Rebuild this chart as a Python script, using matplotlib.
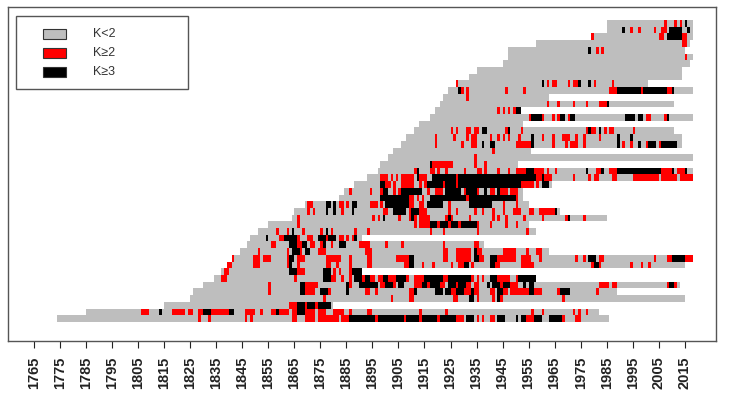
import matplotlib
matplotlib.use('Agg')
import matplotlib.pyplot as plt
from matplotlib.patches import Rectangle

plt.rcParams['font.family'] = ['Liberation Sans', 'DejaVu Sans']

# rows listed from top (k=0) to bottom (k=44)
row_start = [1985, 1985, 1979, 1958, 1947, 1947, 1945, 1935, 1932, 1927,
             1924, 1922, 1921, 1919, 1917, 1913, 1911, 1908, 1906, 1903,
             1901, 1898, 1897, 1893, 1888, 1884, 1882, 1869, 1865, 1864,
             1855, 1851, 1848, 1847, 1844, 1841, 1839, 1837, 1834, 1830,
             1826, 1825, 1815, 1785, 1774]

row_end = [2017, 2017, 2017, 2016, 2014, 2017, 2016, 2013, 2013, 2000,
           2017, 1962, 2010, 1951, 2017, 1952, 2010, 2013, 2013, 1955,
           2017, 1950, 2017, 2017, 1963, 1952, 1952, 1954, 1966, 1984,
           1954, 1957, 1890, 1937, 1962, 2017, 2014, 1890, 1957, 2012,
           1988, 2014, 1879, 1981, 1985]

# years with K>=2 (single year or (first, last) run)
red_years = [
    [2007, 2011, 2013],
    [1994, 1997, 2003, (2006, 2007)],
    [1979, (2005, 2006), (2014, 2015)],
    [2014, 2015],
    [1981, 1983],
    [2015],
    [],
    [],
    [],
    [1927, 1962, (1964, 1965), 1970, (1972, 1973), 1980, 1987],
    [1929, 1931, 1946, 1953, (1986, 1988), 1998, (2008, 2009)],
    [1931],
    [1962, 1966, 1972, 1977, (1982, 1984)],
    [1943, 1945, 1947, 1949],
    [1955, 1960, 1964, 1966, 1970, 2000, 2001, 2007],
    [],
    [1925, 1927, 1931, 1932, 1934, 1935, 1946, 1952, 1977, 1979, 1980, 1984,
     1986, 1987, 1995],
    [1919, 1926, 1931, 1933, 1934, 1940, 1943, 1945, 1947, 1951, 1960, 1964,
     (1968, 1970), 1973, 1976, 1982],
    [1919, 1929, 1933, 1934, (1950, 1955), 1964, 1969, (1971, 1973), 1976,
     1991, 1994, 2000, 2005],
    [1941],
    [1934],
    [(1918, 1925), 1934, 1938],
    [1911, 1917, 1918, 1920, 1923, 1930, 1935, 1936, 1938, 1943, 1947,
     (1950, 1953), (1957, 1960), 1962, 1965, 1981, 1982, (1986, 1988),
     (2006, 2009), (2012, 2014)],
    [(1898, 1900), 1902, 1904, (1906, 1910), (1913, 1915), 1927, (1958, 1959),
     (1961, 1963), 1972, 1978, (1980, 1981), (1987, 1988), (1995, 2004),
     (2006, 2011), (2013, 2017)],
    [1900, 1901, 1903, (1906, 1910), 1913, 1915, 1922, 1927, (1952, 1956), 1958],
    [1886, 1894, 1898, 1903, 1905, 1916, (1919, 1921), 1930, 1935,
     (1940, 1941), (1944, 1946), (1948, 1950)],
    [1909, 1910, 1912, 1914, 1931, 1950],
    [1870, 1871, (1882, 1883), 1885, (1894, 1896), 1898, (1909, 1910),
     (1913, 1914), 1924, 1945, 1950],
    [1870, 1872, 1883, 1899, 1900, 1909, (1913, 1915), 1924, 1927, 1934, 1937,
     1941, 1945, (1949, 1951), 1955, 1956, (1959, 1964)],
    [1866, 1895, 1897, 1905, (1909, 1911), (1913, 1916), 1923, 1925, 1932,
     1941, 1943, 1946, 1953, 1960, 1969, 1976],
    [1866, 1911, (1913, 1916), 1920, 1924, 1928, 1935, 1940, 1946, 1950],
    [1858, 1862, 1868, 1875, 1879, 1888, 1893, 1917, 1922, 1935, 1954],
    [1859, 1860, 1866, 1870, 1871, 1877, 1882, 1883, 1885, 1887],
    [1856, 1857, 1866, 1867, 1871, 1872, 1875, 1879, (1890, 1893), 1900, 1906,
     1922, 1934, 1935],
    [1851, 1862, 1867, (1874, 1876), (1892, 1894), (1922, 1923), (1927, 1932),
     1935, 1936, (1945, 1949), 1954, 1958, 1959],
    [1841, (1849, 1851), (1853, 1855), 1862, (1866, 1868), (1877, 1882), 1886,
     (1893, 1894), (1904, 1908), (1922, 1923), (1927, 1932), (1936, 1937),
     (1943, 1949), (1952, 1955), 1959, 1973, 1976, (1982, 1983), 2003,
     (2008, 2009), (2015, 2017)],
    [1839, 1840, (1849, 1851), 1862, 1866, (1877, 1878), 1881, 1886,
     (1893, 1894), (1907, 1908), 1914, 1918, 1925, (1928, 1929), 1933,
     (1942, 1943), (1952, 1956), 1979, 1982, 1994, 1998, 2001],
    [1838, 1839, (1866, 1868), 1880, 1882, 1886],
    [1837, 1838, 1865, (1879, 1880), 1883, 1886, 1891, 1894, 1895,
     (1897, 1898), (1900, 1903), 1908, (1911, 1914), (1922, 1923), 1933, 1935,
     1937, (1943, 1947), 1950],
    [1855, (1869, 1873), 1886, (1898, 1899), 1903, (1911, 1913), 1916,
     (1921, 1922), 1927, (1931, 1932), (1934, 1935), 1944, (1948, 1950),
     (1982, 1985), (1987, 1988), 2008, 2011],
    [1855, (1869, 1872), 1878, (1892, 1893), 1896, (1909, 1910), 1925, 1926,
     (1930, 1932), (1934, 1935), (1940, 1941), (1945, 1946), (1948, 1954),
     (1957, 1959), 1966, 1981],
    [1876, 1902, (1909, 1910), (1926, 1927), 1935, 1941, 1944, 1968],
    [(1863, 1865), 1869, 1873],
    [(1806, 1808), (1818, 1822), (1824, 1825), (1828, 1829), (1833, 1839),
     (1846, 1849), 1852, (1856, 1857), (1859, 1862), (1864, 1865),
     (1869, 1872), (1874, 1876), (1880, 1883), 1886, 1893, 1894, 1913, 1923,
     1956, 1960, 1972, 1974, 1977],
    [1828, 1832, 1846, 1848, (1864, 1865), (1869, 1872), (1874, 1881),
     (1883, 1885), 1896, 1907, 1913, 1920, (1927, 1929), 1935, 1937,
     (1940, 1941), (1954, 1956), 1968, (1973, 1974)],
]

# years with K>=3
black_years = [
    [2015],
    [1991, (2009, 2013), 2016],
    [(2008, 2013)],
    [],
    [1978],
    [],
    [],
    [],
    [],
    [1960, 1974, 1978],
    [1928, (1989, 1997), (1999, 2007), 2010],
    [],
    [1985],
    [(1950, 1951)],
    [(1956, 1959), (1967, 1968), (1971, 1972), (1992, 1995), (1997, 1998), 2008],
    [],
    [1937, 1938, 1947, 1978, 1982],
    [1956, 1989, 1994],
    [1937, 1940, 1941, 1956, 1989, 1997, (2001, 2003), (2006, 2011)],
    [],
    [],
    [1917],
    [1912, (1954, 1956), 1977, 1983, (1989, 2005), 2010, 2015],
    [1912, (1918, 1926), (1928, 1957), 1960],
    [1898, 1899, (1916, 1921), (1923, 1926), (1928, 1951), (1960, 1962)],
    [1899, 1900, (1906, 1913), (1923, 1928), (1931, 1934), 1938, 1943],
    [(1898, 1908), (1917, 1930), (1932, 1949)],
    [1877, 1878, 1880, 1887, 1888, (1900, 1908), (1916, 1921), (1932, 1940)],
    [1877, 1880, 1887, (1903, 1907), (1910, 1912), 1965],
    [1899, 1910, 1924, 1970],
    [(1917, 1919), (1921, 1923), (1925, 1927), (1929, 1934)],
    [1864, 1877],
    [1854, (1861, 1865), (1874, 1876), (1878, 1880), 1888],
    [(1863, 1865), (1868, 1869), 1876, (1882, 1884)],
    [(1864, 1866), (1869, 1870), 1934],
    [(1863, 1864), (1909, 1910), (1934, 1935), (1940, 1942), (1978, 1980),
     (2010, 2014)],
    [1863, (1909, 1910), (1930, 1931), (1940, 1941), (1980, 1981)],
    [(1863, 1865), (1876, 1878), (1887, 1890)],
    [(1876, 1878), (1888, 1890), (1892, 1893), (1899, 1900), (1904, 1907),
     (1915, 1921), (1924, 1932), (1940, 1942), (1951, 1957)],
    [(1867, 1868), 1885, (1890, 1896), (1900, 1902), (1905, 1906), (1914, 1915),
     (1917, 1920), (1924, 1926), (1928, 1930), 1939, (1941, 1943),
     (1945, 1947), 1953, (1955, 1956), (2009, 2010)],
    [(1867, 1868), (1875, 1877), 1885, 1911, (1919, 1921), (1923, 1924),
     (1927, 1929), 1933, (1943, 1944), (1955, 1956), (1967, 1970)],
    [(1932, 1933), 1943],
    [(1866, 1868), (1870, 1872), (1874, 1878)],
    [1813, (1830, 1832), (1840, 1841), 1858, (1866, 1868)],
    [(1886, 1895), (1897, 1906), (1908, 1912), (1914, 1919), (1921, 1926),
     (1931, 1933), (1943, 1945), 1950, (1952, 1953), (1957, 1959),
     (1963, 1967)],
]

tick_years = list(range(1765, 2016, 10))
legend_labels = ['K<2', 'K\u22652', 'K\u22653']
colors = ['#BEBEBE', '#FF0000', '#000000']


def spans(items):
    out = []
    for it in items:
        a, b = (it, it) if isinstance(it, int) else it
        out.append((a, b - a + 1))
    return out


W, H = 730, 399
fig = plt.figure(figsize=(W / 100, H / 100), dpi=100)
ax = fig.add_axes([8 / W, 1 - 341 / H, 708 / W, 334 / H])

n = len(row_start)
for k in range(n):
    y = n - 1 - k
    ax.broken_barh([(row_start[k], row_end[k] - row_start[k] + 1)], (y, 1),
                   facecolor=colors[0], edgecolor='none', antialiased=False)
    ax.broken_barh(spans(red_years[k]), (y, 1), facecolor=colors[1],
                   edgecolor='none', antialiased=False)
    ax.broken_barh(spans(black_years[k]), (y, 1), facecolor=colors[2],
                   edgecolor='none', antialiased=False)

ax.set_xlim(1755, 2027)
ax.set_ylim(-2.83, n + 1.94)
ax.set_yticks([])
ax.set_xticks(tick_years)
ax.set_xticklabels([str(t) for t in tick_years], rotation=90,
                   fontweight='bold', fontsize=10.5)
ax.tick_params(axis='x', length=5, width=0.8, pad=6, colors='#222222')
for s in ax.spines.values():
    s.set_color('#555555')
    s.set_linewidth(1)

# legend box drawn in pixel positions
def fx(px):
    return px / W


def fy(py):
    return 1 - py / H


fig.patches.append(Rectangle((fx(16), fy(89)), 172 / W, 73 / H,
                             transform=fig.transFigure, facecolor='white',
                             edgecolor='#555555', linewidth=1))
for i, (lab, c) in enumerate(zip(legend_labels, colors)):
    yc = 34 + 19 * i
    fig.patches.append(Rectangle((fx(43), fy(yc + 5)), 23 / W, 10 / H,
                                 transform=fig.transFigure, facecolor=c,
                                 edgecolor='#333333', linewidth=0.8))
    fig.text(fx(93), fy(yc), lab, fontsize=9, color='#333333',
             va='center', ha='left')

fig.savefig('out.png', dpi=100)
